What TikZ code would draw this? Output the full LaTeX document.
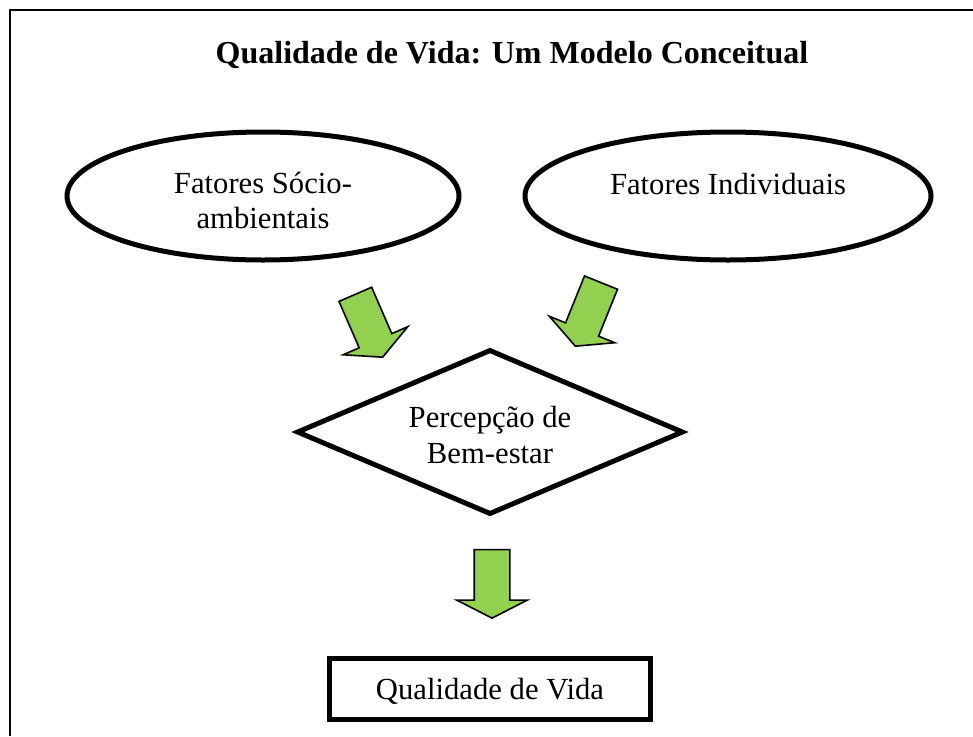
\documentclass[tikz,border=0pt]{standalone}
\usepackage{fontspec}
\setmainfont{Liberation Serif}
\usetikzlibrary{positioning}
\usetikzlibrary{shapes.geometric}
\usetikzlibrary{shapes.arrows}

\definecolor{arrowgreen}{HTML}{92D050}

\begin{document}
\begin{tikzpicture}[
	x=0.75pt, y=-0.75pt,
	factor/.style={draw, ellipse, line width=3.75pt, minimum height=96pt, inner sep=0pt, align=center, text height=49pt, font=\fontsize{23}{26}\selectfont},
	decision/.style={draw, diamond, aspect=2.36, line width=3.75pt, minimum width=290pt, minimum height=123.75pt, inner sep=0pt, align=center, text height=47.5pt, font=\fontsize{23}{27}\selectfont},
	process/.style={draw, rectangle, line width=3.75pt, minimum width=240.75pt, minimum height=46pt, inner sep=0pt, text depth=0pt, font=\fontsize{23}{26}\selectfont},
	blockarrow/.style={draw, single arrow, fill=arrowgreen, line width=1.2pt, inner xsep=0pt, inner ysep=12.75pt, single arrow head extend=13.1pt, single arrow tip angle=126, minimum height=51.4pt, anchor=tip}
	]
	\useasboundingbox (0,0) rectangle (973,736);
	% Frame
	\draw[line width=1.5pt] (10,736) -- (10,10) -- (973,10);
	
	% Nodes
	\node[anchor=base, inner sep=0pt, font=\fontsize{24}{28}\selectfont\bfseries] (title) at (512,63) {Qualidade de Vida: Um Modelo Conceitual};
	\node[factor, minimum width=294pt] (socio) at (263,196) {Fatores Sócio-\\ambientais};
	\node[factor, minimum width=304.5pt, right=45.75pt of socio] (individual) {Fatores Individuais\\\mbox{}};
	\node[decision] (wellbeing) at (490,432) {Percepção de\\Bem-estar};
	\node[process, below=104pt of wellbeing] (quality) {Qualidade de Vida};
	
	% Arrows
	\node[blockarrow, rotate=-66.5] (arrow_socio) at (383,358) {};
	\node[blockarrow, rotate=-112] (arrow_individual) at (575,347) {};
	\node[blockarrow, rotate=-90] (arrow_quality) at (492,619) {};
\end{tikzpicture}
\end{document}
